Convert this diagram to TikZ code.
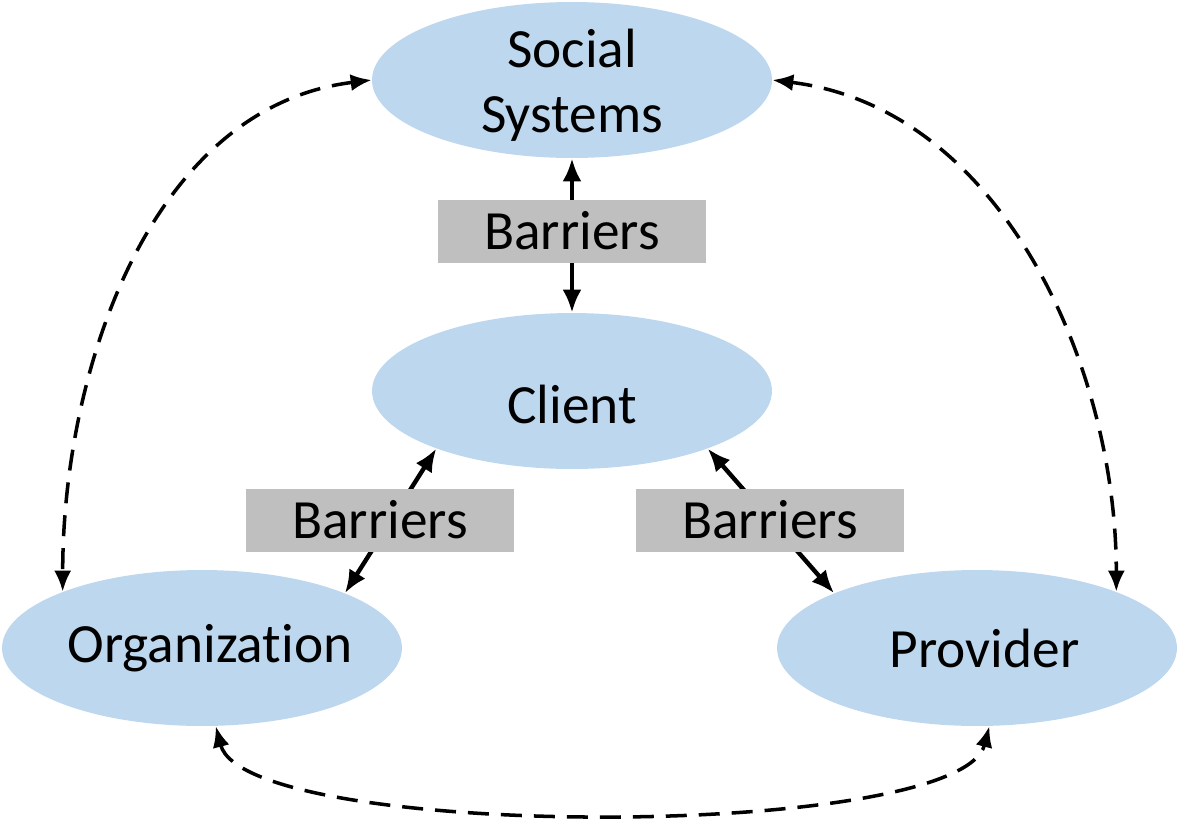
\documentclass[tikz,border=0pt]{standalone}
\usepackage{fontspec}
\setmainfont{Carlito}[Ligatures=NoCommon]
\usepackage{tikz}
\usetikzlibrary{arrows.meta}
\usetikzlibrary{shapes.geometric}
\definecolor{partyblue}{RGB}{189,215,238}
\definecolor{barriergray}{RGB}{191,191,191}

\begin{document}
\begin{tikzpicture}[x=0.02cm, y=-0.02cm,
	party/.style={ellipse, fill=partyblue, minimum width=8cm, minimum height=3.12cm, inner sep=0pt, align=center, font=\fontsize{31.5}{37}\selectfont},
	barrier/.style={rectangle, fill=barriergray, minimum width=5.36cm, minimum height=1.26cm, inner sep=0pt, font=\fontsize{31.5}{37}\selectfont},
	solidlink/.style={{Latex[length=4.6mm,width=3.8mm]}-{Latex[length=4.6mm,width=3.8mm]}, line width=2.5pt},
	dashlink/.style={{Latex[length=4.2mm,width=3.4mm]}-{Latex[length=4.2mm,width=3.4mm]}, line width=2pt, dash pattern=on 0.42cm off 0.24cm}]
	\useasboundingbox (0,0) rectangle (1181,823);

	\node[party, text height=2.12cm, text depth=0pt] (ss) at (572,80) {Social\\Systems};
	\node[party, text height=1.28cm, text depth=0pt] (client) at (572,391) {Client};
	\node[party] (org) at (202,648) {\makebox[0pt]{\hspace{0.32cm}Organization}};
	\node[party] (prov) at (977,648) {\makebox[0pt]{\hspace{0.3cm}Provider}};

	% barriers between the client and the rest
	\draw[solidlink] (ss.south) -- (client.north);
	\draw[solidlink] (client.203) -- (org.21);
	\draw[solidlink] (client.-23) -- (prov.159);
	\node[barrier] (b1) at (572,231) {Barriers};
	\node[barrier] (b2) at (380,520) {Barriers};
	\node[barrier] (b3) at (770,520) {Barriers};

	\draw[dashlink] (ss.west) to[out=187, in=90, looseness=0.95] (org.158);
	\draw[dashlink] (ss.east) to[out=-7, in=90, looseness=0.95] (prov.22);
	\draw[dashlink] (org.-80) .. controls +(30,115) and +(-30,115) .. (prov.-81);
\end{tikzpicture}
\end{document}
